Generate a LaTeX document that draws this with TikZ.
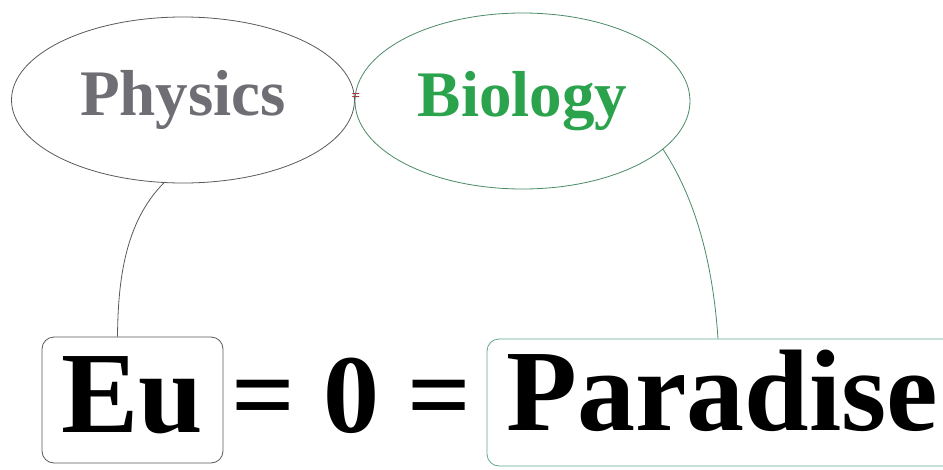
\documentclass[tikz,border=0pt]{standalone}
\usepackage{fontspec}
\setmainfont{Liberation Serif}
\usetikzlibrary{shapes.geometric}
\definecolor{physgray}{HTML}{6E6E74}
\definecolor{biogreen}{HTML}{2BA24C}
\definecolor{edgegray}{HTML}{5A5A5E}
\definecolor{edgegreen}{HTML}{4A8A66}
\definecolor{boxgreen}{HTML}{5FA88A}
\definecolor{tinyred}{HTML}{A8323A}
\tikzset{
  bubble/.style={ellipse, draw, line width=0.8pt, inner sep=0pt, font=\bfseries\fontsize{65}{65}\selectfont},
  bigbox/.style={draw, rounded corners=12pt, line width=0.8pt, inner sep=0pt, font=\bfseries\fontsize{116}{116}\selectfont},
  link/.style={line width=0.8pt}
}
\begin{document}
\begin{tikzpicture}[x=1pt,y=-1pt]
\useasboundingbox (0,0) rectangle (943,469);
\clip (0,0) rectangle (943,469);
\fill[white] (0,0) rectangle (943,469);
\node[bubble, draw=edgegray, text=physgray, minimum width=343pt, minimum height=166pt] (phys) at (183,100) {Physics};
\node[bubble, draw=edgegreen, text=biogreen, minimum width=335pt, minimum height=176pt] (bio) at (522.5,101) {Biology};
\node[text=tinyred, font=\bfseries\fontsize{15}{15}\selectfont, inner sep=0pt] (eq) at (356,97) {=};
\node[bigbox, draw=edgegray, minimum width=181pt, minimum height=126pt, text height=77pt, text depth=13pt] (eu) at (132.5,400) {Eu};
\node[anchor=base, font=\bfseries\fontsize{112}{112}\selectfont, inner sep=0pt] (mid) at (351,432) {= 0 =};
\node[bigbox, draw=boxgreen, minimum width=470pt, minimum height=127pt, text height=77pt, text depth=22pt] (para) at (722,402.5) {Paradise};
\draw[link, edgegray] (phys.-103) .. controls (125,222) and (118,280) .. ([xshift=-15pt]eu.north);
\draw[link, edgegreen] (bio.-19) .. controls (690,190) and (712,250) .. ([xshift=-4pt]para.north);
\end{tikzpicture}
\end{document}
